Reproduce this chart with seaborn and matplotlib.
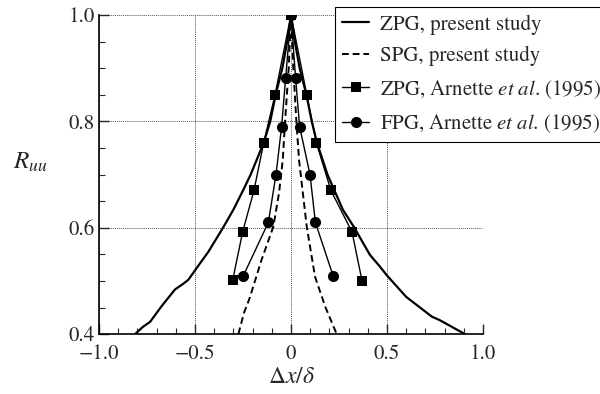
import pandas as pd
import matplotlib
matplotlib.use("Agg")
import matplotlib.pyplot as plt
import seaborn as sns
from matplotlib.ticker import MultipleLocator, FixedLocator, FormatStrFormatter

# ZPG, present study (solid)
zpg_x = [-0.8125, -0.77, -0.734, -0.673, -0.604, -0.56, -0.535, -0.48, -0.43, -0.354,
         -0.30, -0.25, -0.21, -0.142, -0.108, -0.08, -0.045, -0.02, 0.0,
         0.02, 0.045, 0.08, 0.108, 0.135, 0.19, 0.27, 0.33, 0.411, 0.463, 0.498,
         0.60, 0.733, 0.776, 0.906, 0.95]
zpg_y = [0.40, 0.414, 0.423, 0.453, 0.484, 0.495, 0.502, 0.53, 0.555, 0.60,
         0.634, 0.67, 0.70, 0.76, 0.80, 0.85, 0.90, 0.95, 1.0,
         0.95, 0.90, 0.85, 0.80, 0.76, 0.70, 0.634, 0.60, 0.549, 0.527, 0.511,
         0.47, 0.433, 0.426, 0.40, 0.39]

# SPG, present study (dashed)
spg_x = [-0.274, -0.245, -0.216, -0.153, -0.092, -0.0625, -0.043, -0.031, -0.012, 0.0,
         0.012, 0.028, 0.042, 0.082, 0.125, 0.18, 0.238]
spg_y = [0.40, 0.44, 0.467, 0.54, 0.602, 0.665, 0.727, 0.80, 0.90, 1.0,
         0.90, 0.80, 0.727, 0.602, 0.508, 0.45, 0.40]

# ZPG, Arnette et al. (1995) (squares)
arn_zpg_x = [-0.304, -0.252, -0.193, -0.142, -0.083, 0.0, 0.082, 0.132, 0.208, 0.318, 0.370]
arn_zpg_y = [0.501, 0.592, 0.670, 0.760, 0.850, 1.0, 0.850, 0.760, 0.670, 0.592, 0.500]

# FPG, Arnette et al. (1995) (circles)
arn_fpg_x = [-0.248, -0.118, -0.078, -0.049, -0.028, 0.0, 0.024, 0.045, 0.099, 0.127, 0.219]
arn_fpg_y = [0.51, 0.61, 0.70, 0.79, 0.881, 1.0, 0.881, 0.79, 0.70, 0.61, 0.51]

x_ticks = [-1.0, -0.5, 0.0, 0.5, 1.0]
x_tick_labels = ["\u22121.0", "\u22120.5", "0", "0.5", "1.0"]

sns.set_style("ticks")
plt.rcParams["font.family"] = ["STIXGeneral", "DejaVu Serif"]
plt.rcParams["mathtext.fontset"] = "stix"

fig = plt.figure(figsize=(6.0, 3.94), dpi=100)
ax = fig.add_axes([0.165, 0.152, 0.64, 0.81])

sns.lineplot(x=zpg_x, y=zpg_y, sort=False, estimator=None, ax=ax, color="black",
             lw=1.6, label="ZPG, present study")
sns.lineplot(x=spg_x, y=spg_y, sort=False, estimator=None, ax=ax, color="black",
             lw=1.4, linestyle=(0, (3.5, 2)), label="SPG, present study")
sns.lineplot(x=arn_zpg_x, y=arn_zpg_y, sort=False, estimator=None, ax=ax, color="black",
             lw=1.0, marker="s", markersize=7, markeredgewidth=0,
             label=r"ZPG, Arnette $\it{et\ al}$. (1995)")
sns.lineplot(x=arn_fpg_x, y=arn_fpg_y, sort=False, estimator=None, ax=ax, color="black",
             lw=1.0, marker="o", markersize=8, markeredgewidth=0,
             label=r"FPG, Arnette $\it{et\ al}$. (1995)")

ax.set_xlim(-1.0, 1.0)
ax.set_ylim(0.4, 1.0)
ax.xaxis.set_major_locator(FixedLocator(x_ticks))
ax.set_xticklabels(x_tick_labels)
ax.xaxis.set_minor_locator(MultipleLocator(0.1))
ax.yaxis.set_major_locator(MultipleLocator(0.2))
ax.yaxis.set_minor_locator(MultipleLocator(0.05))
ax.yaxis.set_major_formatter(FormatStrFormatter("%.1f"))

ax.tick_params(which="major", direction="in", length=7, width=1, labelsize=15, pad=3)
ax.tick_params(axis="x", which="major", pad=7)
ax.tick_params(which="minor", direction="in", length=4.5, width=0.8)
ax.grid(True, which="major", color="#555555", linestyle=(0, (1, 1)), lw=0.7)
sns.despine(ax=ax, top=True, right=True)
for s in ["left", "bottom"]:
    ax.spines[s].set_linewidth(1.2)
    ax.spines[s].set_color("black")

ax.set_xlabel(r"$\Delta x/\delta$", fontsize=17, labelpad=2)
ax.set_ylabel(r"$R_{uu}$", fontsize=18, rotation=0, labelpad=0)
ax.yaxis.set_label_coords(-0.18, 0.50)

leg = ax.legend(loc="upper left", bbox_to_anchor=(0.558, 0.982), bbox_transform=fig.transFigure,
                fontsize=15, frameon=True, fancybox=False, framealpha=1, edgecolor="black",
                handlelength=1.3, handletextpad=0.5, labelspacing=0.55, borderpad=0.35,
                borderaxespad=0)
leg.get_frame().set_linewidth(0.8)

fig.savefig("out.png", dpi=100)
